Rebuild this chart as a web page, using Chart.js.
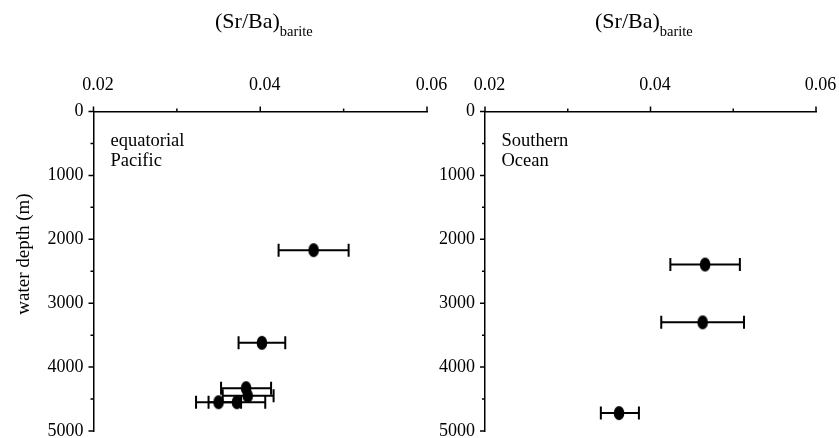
<!DOCTYPE html>
<html>
<head>
<meta charset="utf-8">
<script src="https://cdn.jsdelivr.net/npm/chart.js@4/dist/chart.umd.min.js"></script>
<style>
  html, body { margin: 0; padding: 0; background: #fff; }
  #wrap { position: relative; width: 839px; height: 438px; overflow: hidden; }
  canvas { position: absolute; top: 0; }
</style>
</head>
<body>
<div id="wrap">
  <canvas id="left" width="450" height="438" style="left:0px"></canvas>
  <canvas id="right" width="419" height="438" style="left:420px"></canvas>
</div>
<script>
// ---- data ----
// equatorial Pacific
const eqDepth = [2170, 3620, 4330, 4450, 4550, 4550];
const eqRatio = [0.0464, 0.0402, 0.0383, 0.0385, 0.0350, 0.0372];
const eqLow   = [0.0422, 0.0374, 0.0353, 0.0355, 0.0323, 0.0338];
const eqHigh  = [0.0506, 0.0430, 0.0413, 0.0416, 0.0377, 0.0406];
// Southern Ocean
const soDepth = [2395, 3300, 4720];
const soRatio = [0.0466, 0.0463, 0.0362];
const soLow   = [0.0424, 0.0413, 0.0340];
const soHigh  = [0.0508, 0.0513, 0.0386];
// axes
const xRange = [0.02, 0.06];
const yRange = [0, 5000];
const panelNames = [["equatorial", "Pacific"], ["Southern", "Ocean"]];
const xTitleMain = "(Sr/Ba)";
const xTitleSub = "barite";
const yTitle = "water depth (m)";

const FONT = '"Liberation Serif", "Times New Roman", serif';

// elliptical marker
function makeEllipse() {
  const c = document.createElement('canvas');
  c.width = 12; c.height = 16;
  const g = c.getContext('2d');
  g.fillStyle = '#000';
  g.beginPath();
  g.ellipse(6, 8, 5.3, 7.1, 0, 0, Math.PI * 2);
  g.fill();
  return c;
}
const marker = makeEllipse();

const errorBars = {
  id: 'errorBars',
  beforeDatasetsDraw(chart) {
    const { ctx, scales: { x, y } } = chart;
    ctx.save();
    ctx.strokeStyle = '#000';
    ctx.lineWidth = 2;
    chart.data.datasets.forEach(ds => {
      ds.data.forEach((p, i) => {
        const yp = y.getPixelForValue(p.y);
        const x1 = x.getPixelForValue(ds.errLow[i]);
        const x2 = x.getPixelForValue(ds.errHigh[i]);
        ctx.beginPath();
        ctx.moveTo(x1, yp); ctx.lineTo(x2, yp);
        ctx.moveTo(x1, yp - 6.5); ctx.lineTo(x1, yp + 6.5);
        ctx.moveTo(x2, yp - 6.5); ctx.lineTo(x2, yp + 6.5);
        ctx.stroke();
      });
    });
    ctx.restore();
  }
};

const tickMarks = {
  id: 'tickMarks',
  afterDraw(chart) {
    const { ctx, scales: { x, y } } = chart;
    ctx.save();
    ctx.strokeStyle = '#000';
    ctx.lineWidth = 1.5;
    ctx.beginPath();
    x.ticks.forEach(t => {
      const px = x.getPixelForValue(t.value);
      const len = t.label !== '' ? 5 : 3;
      ctx.moveTo(px, x.bottom); ctx.lineTo(px, x.bottom - len);
    });
    y.ticks.forEach(t => {
      const py = y.getPixelForValue(t.value);
      const len = t.label !== '' ? 5 : 3;
      ctx.moveTo(y.right, py); ctx.lineTo(y.right - len, py);
    });
    ctx.stroke();
    ctx.restore();
  }
};

const panelText = {
  id: 'panelText',
  afterDraw(chart, args, opts) {
    const ctx = chart.ctx;
    ctx.save();
    ctx.fillStyle = '#000';
    ctx.textBaseline = 'alphabetic';
    ctx.textAlign = 'left';
    // x axis title with subscript
    ctx.font = '22px ' + FONT;
    ctx.fillText(xTitleMain, opts.titleX, 28);
    const w = ctx.measureText(xTitleMain).width;
    ctx.font = '14.5px ' + FONT;
    ctx.fillText(xTitleSub, opts.titleX + w, 36);
    // panel label
    ctx.font = '18.5px ' + FONT;
    opts.lines.forEach((s, i) => ctx.fillText(s, opts.labelX, 146 + i * 19.5));
    // y title
    if (opts.yTitle) {
      ctx.font = '19px ' + FONT;
      ctx.translate(28.5, 254);
      ctx.rotate(-Math.PI / 2);
      ctx.textAlign = 'center';
      ctx.fillText(opts.yTitle, 0, 0);
    }
    ctx.restore();
  }
};

function noPad(s) {
  s.paddingLeft = 0; s.paddingRight = 0; s.paddingTop = 0; s.paddingBottom = 0;
}

function makeChart(id, depth, ratio, low, high, yWidth, padRight, textOpts) {
  const ctx = document.getElementById(id);
  return new Chart(ctx, {
    type: 'scatter',
    data: {
      datasets: [{
        data: depth.map((d, i) => ({ x: ratio[i], y: d })),
        errLow: low,
        errHigh: high,
        pointStyle: marker,
        pointRadius: 6,
        backgroundColor: '#000',
        borderColor: '#000'
      }]
    },
    options: {
      responsive: false,
      animation: false,
      devicePixelRatio: 1,
      layout: { padding: { left: 0, right: padRight, top: 0, bottom: 7 } },
      plugins: {
        legend: { display: false },
        tooltip: { enabled: false },
        panelText: textOpts
      },
      scales: {
        x: {
          type: 'linear',
          position: 'top',
          min: xRange[0], max: xRange[1],
          grid: { display: false, drawTicks: false },
          border: { display: true, color: '#000', width: 1.5 },
          ticks: {
            stepSize: 0.01,
            autoSkip: false,
            maxRotation: 0,
            color: '#000',
            padding: 15,
            labelOffset: 4.5,
            font: { family: FONT, size: 18 },
            callback: v => (Math.round(v * 100) % 2 === 0 ? v.toFixed(2) : '')
          },
          afterFit: s => { s.height = 111.5; noPad(s); }
        },
        y: {
          type: 'linear',
          reverse: true,
          min: yRange[0], max: yRange[1],
          grid: { display: false, drawTicks: false },
          border: { display: true, color: '#000', width: 1.5 },
          ticks: {
            stepSize: 500,
            autoSkip: false,
            color: '#000',
            padding: 10,
            font: { family: FONT, size: 18 },
            callback: v => (v % 1000 === 0 ? String(v) : '')
          },
          afterFit: s => { s.width = yWidth; noPad(s); }
        }
      }
    },
    plugins: [errorBars, tickMarks, panelText]
  });
}

makeChart('left', eqDepth, eqRatio, eqLow, eqHigh, 93.5, 450 - 427, {
  titleX: 215, labelX: 110.5, lines: panelNames[0], yTitle: yTitle
});
makeChart('right', soDepth, soRatio, soLow, soHigh, 65, 419 - 396, {
  titleX: 175, labelX: 81.5, lines: panelNames[1], yTitle: null
});
</script>
</body>
</html>
